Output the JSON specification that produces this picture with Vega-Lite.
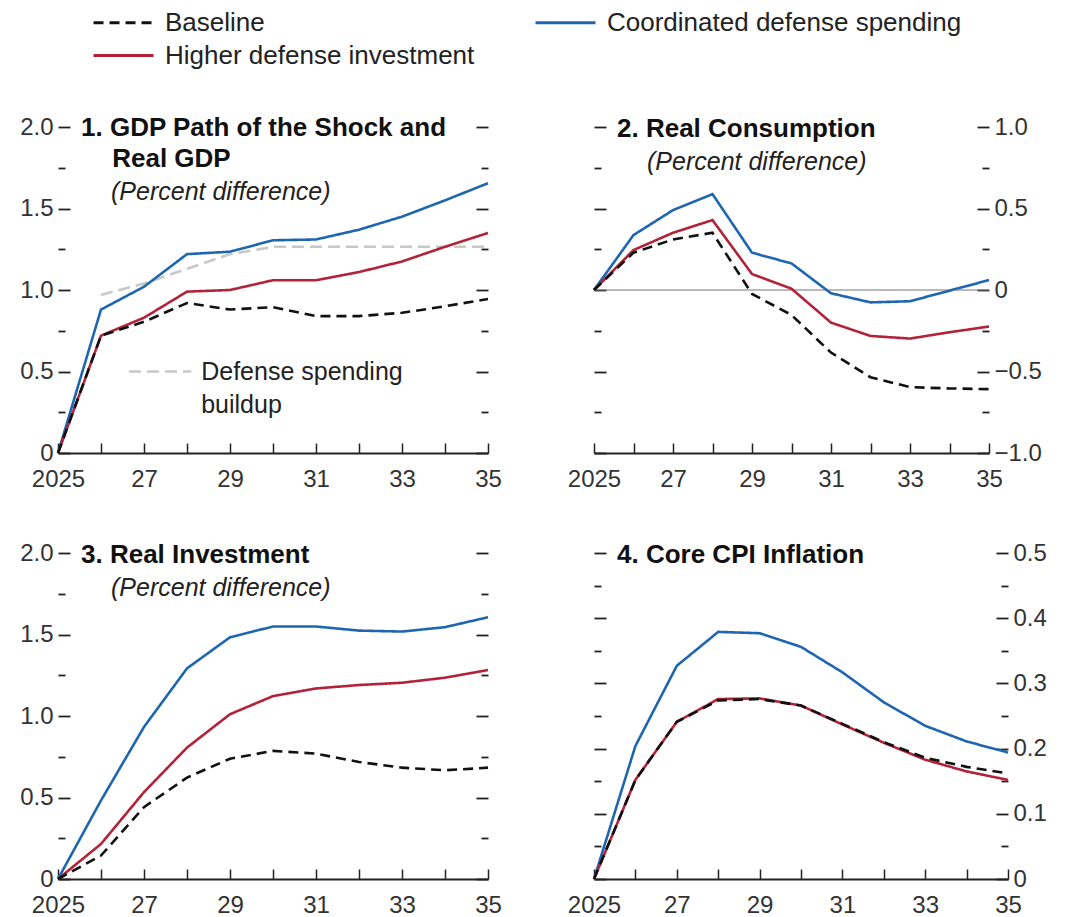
{
  "$schema": "https://vega.github.io/schema/vega-lite/v6.json",
  "padding": {"left": 19, "top": 6, "right": 5, "bottom": 5},
  "background": "white",
  "datasets": {
    "p1": [
      {"series": "Coordinated defense spending", "year": 2025, "value": 0},
      {"series": "Coordinated defense spending", "year": 2026, "value": 0.88},
      {"series": "Coordinated defense spending", "year": 2027, "value": 1.02},
      {"series": "Coordinated defense spending", "year": 2028, "value": 1.22},
      {"series": "Coordinated defense spending", "year": 2029, "value": 1.235},
      {"series": "Coordinated defense spending", "year": 2030, "value": 1.305},
      {"series": "Coordinated defense spending", "year": 2031, "value": 1.31},
      {"series": "Coordinated defense spending", "year": 2032, "value": 1.37},
      {"series": "Coordinated defense spending", "year": 2033, "value": 1.45},
      {"series": "Coordinated defense spending", "year": 2034, "value": 1.55},
      {"series": "Coordinated defense spending", "year": 2035, "value": 1.655},
      {"series": "Higher defense investment", "year": 2025, "value": 0},
      {"series": "Higher defense investment", "year": 2026, "value": 0.72},
      {"series": "Higher defense investment", "year": 2027, "value": 0.83},
      {"series": "Higher defense investment", "year": 2028, "value": 0.99},
      {"series": "Higher defense investment", "year": 2029, "value": 1.0},
      {"series": "Higher defense investment", "year": 2030, "value": 1.06},
      {"series": "Higher defense investment", "year": 2031, "value": 1.06},
      {"series": "Higher defense investment", "year": 2032, "value": 1.11},
      {"series": "Higher defense investment", "year": 2033, "value": 1.175},
      {"series": "Higher defense investment", "year": 2034, "value": 1.265},
      {"series": "Higher defense investment", "year": 2035, "value": 1.35},
      {"series": "Baseline", "year": 2025, "value": 0},
      {"series": "Baseline", "year": 2026, "value": 0.72},
      {"series": "Baseline", "year": 2027, "value": 0.805},
      {"series": "Baseline", "year": 2028, "value": 0.92},
      {"series": "Baseline", "year": 2029, "value": 0.88},
      {"series": "Baseline", "year": 2030, "value": 0.895},
      {"series": "Baseline", "year": 2031, "value": 0.84},
      {"series": "Baseline", "year": 2032, "value": 0.84},
      {"series": "Baseline", "year": 2033, "value": 0.86},
      {"series": "Baseline", "year": 2034, "value": 0.9},
      {"series": "Baseline", "year": 2035, "value": 0.945}
    ],
    "buildup": [
      {"year": 2026, "value": 0.97},
      {"year": 2027, "value": 1.04},
      {"year": 2028, "value": 1.13},
      {"year": 2029, "value": 1.22},
      {"year": 2030, "value": 1.265},
      {"year": 2031, "value": 1.265},
      {"year": 2032, "value": 1.265},
      {"year": 2033, "value": 1.265},
      {"year": 2034, "value": 1.265},
      {"year": 2035, "value": 1.265}
    ],
    "p2": [
      {"series": "Coordinated defense spending", "year": 2025, "value": 0},
      {"series": "Coordinated defense spending", "year": 2026, "value": 0.337},
      {"series": "Coordinated defense spending", "year": 2027, "value": 0.49},
      {"series": "Coordinated defense spending", "year": 2028, "value": 0.588},
      {"series": "Coordinated defense spending", "year": 2029, "value": 0.229},
      {"series": "Coordinated defense spending", "year": 2030, "value": 0.163},
      {"series": "Coordinated defense spending", "year": 2031, "value": -0.02},
      {"series": "Coordinated defense spending", "year": 2032, "value": -0.076},
      {"series": "Coordinated defense spending", "year": 2033, "value": -0.069},
      {"series": "Coordinated defense spending", "year": 2034, "value": -0.004},
      {"series": "Coordinated defense spending", "year": 2035, "value": 0.061},
      {"series": "Higher defense investment", "year": 2025, "value": 0},
      {"series": "Higher defense investment", "year": 2026, "value": 0.245},
      {"series": "Higher defense investment", "year": 2027, "value": 0.351},
      {"series": "Higher defense investment", "year": 2028, "value": 0.429},
      {"series": "Higher defense investment", "year": 2029, "value": 0.098},
      {"series": "Higher defense investment", "year": 2030, "value": 0.008},
      {"series": "Higher defense investment", "year": 2031, "value": -0.2},
      {"series": "Higher defense investment", "year": 2032, "value": -0.282},
      {"series": "Higher defense investment", "year": 2033, "value": -0.298},
      {"series": "Higher defense investment", "year": 2034, "value": -0.259},
      {"series": "Higher defense investment", "year": 2035, "value": -0.224},
      {"series": "Baseline", "year": 2025, "value": 0},
      {"series": "Baseline", "year": 2026, "value": 0.229},
      {"series": "Baseline", "year": 2027, "value": 0.31},
      {"series": "Baseline", "year": 2028, "value": 0.351},
      {"series": "Baseline", "year": 2029, "value": -0.024},
      {"series": "Baseline", "year": 2030, "value": -0.153},
      {"series": "Baseline", "year": 2031, "value": -0.384},
      {"series": "Baseline", "year": 2032, "value": -0.535},
      {"series": "Baseline", "year": 2033, "value": -0.596},
      {"series": "Baseline", "year": 2034, "value": -0.604},
      {"series": "Baseline", "year": 2035, "value": -0.608}
    ],
    "p3": [
      {"series": "Coordinated defense spending", "year": 2025, "value": 0},
      {"series": "Coordinated defense spending", "year": 2026, "value": 0.482},
      {"series": "Coordinated defense spending", "year": 2027, "value": 0.933},
      {"series": "Coordinated defense spending", "year": 2028, "value": 1.292},
      {"series": "Coordinated defense spending", "year": 2029, "value": 1.483},
      {"series": "Coordinated defense spending", "year": 2030, "value": 1.549},
      {"series": "Coordinated defense spending", "year": 2031, "value": 1.549},
      {"series": "Coordinated defense spending", "year": 2032, "value": 1.524},
      {"series": "Coordinated defense spending", "year": 2033, "value": 1.518},
      {"series": "Coordinated defense spending", "year": 2034, "value": 1.545},
      {"series": "Coordinated defense spending", "year": 2035, "value": 1.606},
      {"series": "Higher defense investment", "year": 2025, "value": 0},
      {"series": "Higher defense investment", "year": 2026, "value": 0.215},
      {"series": "Higher defense investment", "year": 2027, "value": 0.533},
      {"series": "Higher defense investment", "year": 2028, "value": 0.806},
      {"series": "Higher defense investment", "year": 2029, "value": 1.011},
      {"series": "Higher defense investment", "year": 2030, "value": 1.122},
      {"series": "Higher defense investment", "year": 2031, "value": 1.169},
      {"series": "Higher defense investment", "year": 2032, "value": 1.19},
      {"series": "Higher defense investment", "year": 2033, "value": 1.204},
      {"series": "Higher defense investment", "year": 2034, "value": 1.235},
      {"series": "Higher defense investment", "year": 2035, "value": 1.282},
      {"series": "Baseline", "year": 2025, "value": 0},
      {"series": "Baseline", "year": 2026, "value": 0.144},
      {"series": "Baseline", "year": 2027, "value": 0.441},
      {"series": "Baseline", "year": 2028, "value": 0.622},
      {"series": "Baseline", "year": 2029, "value": 0.738},
      {"series": "Baseline", "year": 2030, "value": 0.786},
      {"series": "Baseline", "year": 2031, "value": 0.769},
      {"series": "Baseline", "year": 2032, "value": 0.718},
      {"series": "Baseline", "year": 2033, "value": 0.683},
      {"series": "Baseline", "year": 2034, "value": 0.667},
      {"series": "Baseline", "year": 2035, "value": 0.683}
    ],
    "p4": [
      {"series": "Coordinated defense spending", "year": 2025, "value": 0},
      {"series": "Coordinated defense spending", "year": 2026, "value": 0.204},
      {"series": "Coordinated defense spending", "year": 2027, "value": 0.327},
      {"series": "Coordinated defense spending", "year": 2028, "value": 0.379},
      {"series": "Coordinated defense spending", "year": 2029, "value": 0.377},
      {"series": "Coordinated defense spending", "year": 2030, "value": 0.356},
      {"series": "Coordinated defense spending", "year": 2031, "value": 0.317},
      {"series": "Coordinated defense spending", "year": 2032, "value": 0.271},
      {"series": "Coordinated defense spending", "year": 2033, "value": 0.235},
      {"series": "Coordinated defense spending", "year": 2034, "value": 0.211},
      {"series": "Coordinated defense spending", "year": 2035, "value": 0.194},
      {"series": "Higher defense investment", "year": 2025, "value": 0},
      {"series": "Higher defense investment", "year": 2026, "value": 0.152},
      {"series": "Higher defense investment", "year": 2027, "value": 0.241},
      {"series": "Higher defense investment", "year": 2028, "value": 0.276},
      {"series": "Higher defense investment", "year": 2029, "value": 0.277},
      {"series": "Higher defense investment", "year": 2030, "value": 0.266},
      {"series": "Higher defense investment", "year": 2031, "value": 0.237},
      {"series": "Higher defense investment", "year": 2032, "value": 0.209},
      {"series": "Higher defense investment", "year": 2033, "value": 0.183},
      {"series": "Higher defense investment", "year": 2034, "value": 0.165},
      {"series": "Higher defense investment", "year": 2035, "value": 0.152},
      {"series": "Baseline", "year": 2025, "value": 0},
      {"series": "Baseline", "year": 2026, "value": 0.152},
      {"series": "Baseline", "year": 2027, "value": 0.241},
      {"series": "Baseline", "year": 2028, "value": 0.274},
      {"series": "Baseline", "year": 2029, "value": 0.276},
      {"series": "Baseline", "year": 2030, "value": 0.266},
      {"series": "Baseline", "year": 2031, "value": 0.238},
      {"series": "Baseline", "year": 2032, "value": 0.21},
      {"series": "Baseline", "year": 2033, "value": 0.186},
      {"series": "Baseline", "year": 2034, "value": 0.172},
      {"series": "Baseline", "year": 2035, "value": 0.162}
    ],
    "one": [{"note": "annotation"}]
  },
  "columns": 2,
  "spacing": {"row": 100, "column": 106},
  "bounds": "flush",
  "concat": [
    {
      "width": 430,
      "height": 326,
      "title": {"text": ["1. GDP Path of the Shock and", "\u200b\u2003\u2009Real GDP"], "subtitle": "\u200b\u2003\u2009(Percent difference)", "dx": 23, "offset": -90},
      "layer": [
        {
          "data": {"name": "buildup"},
          "mark": {"type": "line", "color": "#c8c8c8", "strokeDash": [12, 6], "strokeWidth": 2.6},
          "encoding": {
            "x": {"field": "year", "type": "quantitative", "scale": {"domain": [2025, 2035], "nice": false, "zero": false},
              "axis": {"values": [2025, 2026, 2027, 2028, 2029, 2030, 2031, 2032, 2033, 2034, 2035], "labelExpr": "datum.value % 2 == 1 ? (datum.value == 2025 ? '2025' : substring(toString(datum.value), 2, 4)) : ''"}},
            "y": {"field": "value", "type": "quantitative", "scale": {"domain": [0, 2], "nice": false, "zero": false},
              "axis": {"orient": "left", "values": [0, 0.25, 0.5, 0.75, 1, 1.25, 1.5, 1.75, 2], "labelExpr": "round(datum.value*100) % 50 != 0 ? '' : (datum.value == 0 ? '0' : format(datum.value, '.1f'))", "tickSize": {"condition": {"test": "round(datum.value*100) % 50 != 0", "value": -7}, "value": -12}}}
          }
        },
        {
          "data": {"name": "p1"},
          "mark": {"type": "line", "strokeWidth": 2.6},
          "encoding": {
            "x": {"field": "year", "type": "quantitative", "scale": {"domain": [2025, 2035], "nice": false, "zero": false},
              "axis": {"values": [2025, 2026, 2027, 2028, 2029, 2030, 2031, 2032, 2033, 2034, 2035], "labelExpr": "datum.value % 2 == 1 ? (datum.value == 2025 ? '2025' : substring(toString(datum.value), 2, 4)) : ''"}},
            "y": {"field": "value", "type": "quantitative", "scale": {"domain": [0, 2], "nice": false, "zero": false},
              "axis": {"orient": "right", "values": [0, 0.25, 0.5, 0.75, 1, 1.25, 1.5, 1.75, 2], "labels": false, "tickSize": {"condition": {"test": "round(datum.value*100) % 50 != 0", "value": -7}, "value": -12}}},
            "color": {"field": "series", "type": "nominal", "scale": {"domain": ["Baseline", "Higher defense investment", "Coordinated defense spending"], "range": ["#111111", "#b2233a", "#1f66b0"]},
              "legend": {"orient": "none", "legendX": 49, "legendY": -121, "columns": 2, "title": null}},
            "strokeDash": {"field": "series", "type": "nominal", "scale": {"domain": ["Baseline", "Higher defense investment", "Coordinated defense spending"], "range": [[10, 6], [1, 0], [1, 0]]},
              "legend": {"orient": "none", "legendX": 49, "legendY": -121, "columns": 2, "title": null}}
          }
        },
        {
          "data": {"name": "one"},
          "mark": {"type": "rule", "color": "#c8c8c8", "strokeDash": [12, 6], "strokeWidth": 2.6},
          "encoding": {
            "x": {"datum": 2026.65, "type": "quantitative",
              "axis": {"values": [2025, 2026, 2027, 2028, 2029, 2030, 2031, 2032, 2033, 2034, 2035], "labelExpr": "datum.value % 2 == 1 ? (datum.value == 2025 ? '2025' : substring(toString(datum.value), 2, 4)) : ''"}},
            "x2": {"datum": 2028.1},
            "y": {"datum": 0.5, "type": "quantitative", "axis": null}
          }
        },
        {
          "data": {"name": "one"},
          "mark": {"type": "text", "text": ["Defense spending", "buildup"], "align": "left", "baseline": "middle", "font": "Liberation Sans", "fontSize": 25, "lineHeight": 33, "color": "#222222"},
          "encoding": {
            "x": {"datum": 2028.33, "type": "quantitative",
              "axis": {"values": [2025, 2026, 2027, 2028, 2029, 2030, 2031, 2032, 2033, 2034, 2035], "labelExpr": "datum.value % 2 == 1 ? (datum.value == 2025 ? '2025' : substring(toString(datum.value), 2, 4)) : ''"}},
            "y": {"datum": 0.5, "type": "quantitative", "axis": null}
          }
        }
      ],
      "resolve": {"axis": {"y": "independent"}}
    },
    {
      "width": 395,
      "height": 326,
      "title": {"text": "2. Real Consumption", "subtitle": "\u200b\u2003\u2009(Percent difference)", "dx": 23, "offset": -60},
      "layer": [
        {
          "data": {"name": "one"},
          "mark": {"type": "rule", "color": "#777777", "strokeWidth": 1.2},
          "encoding": {
            "y": {"datum": 0, "type": "quantitative", "scale": {"domain": [-1, 1], "nice": false, "zero": false},
              "axis": {"orient": "left", "values": [-1, -0.75, -0.5, -0.25, 0, 0.25, 0.5, 0.75, 1], "labels": false, "tickSize": {"condition": {"test": "round(datum.value*100) % 50 != 0", "value": -7}, "value": -12}}}
          }
        },
        {
          "data": {"name": "p2"},
          "mark": {"type": "line", "strokeWidth": 2.6},
          "encoding": {
            "x": {"field": "year", "type": "quantitative", "scale": {"domain": [2025, 2035], "nice": false, "zero": false},
              "axis": {"values": [2025, 2026, 2027, 2028, 2029, 2030, 2031, 2032, 2033, 2034, 2035], "labelExpr": "datum.value % 2 == 1 ? (datum.value == 2025 ? '2025' : substring(toString(datum.value), 2, 4)) : ''"}},
            "y": {"field": "value", "type": "quantitative", "scale": {"domain": [-1, 1], "nice": false, "zero": false},
              "axis": {"orient": "right", "values": [-1, -0.75, -0.5, -0.25, 0, 0.25, 0.5, 0.75, 1], "labelExpr": "round(datum.value*100) % 50 != 0 ? '' : (datum.value == 0 ? '0' : format(datum.value, '.1f'))", "tickSize": {"condition": {"test": "round(datum.value*100) % 50 != 0", "value": -7}, "value": -12}}},
            "color": {"field": "series", "type": "nominal", "legend": null},
            "strokeDash": {"field": "series", "type": "nominal", "legend": null}
          }
        }
      ],
      "resolve": {"axis": {"y": "independent"}}
    },
    {
      "width": 430,
      "height": 326,
      "title": {"text": "3. Real Investment", "subtitle": "\u200b\u2003\u2009(Percent difference)", "dx": 23, "offset": -60},
      "layer": [
        {
          "data": {"name": "p3"},
          "mark": {"type": "line", "strokeWidth": 2.6},
          "encoding": {
            "x": {"field": "year", "type": "quantitative", "scale": {"domain": [2025, 2035], "nice": false, "zero": false},
              "axis": {"values": [2025, 2026, 2027, 2028, 2029, 2030, 2031, 2032, 2033, 2034, 2035], "labelExpr": "datum.value % 2 == 1 ? (datum.value == 2025 ? '2025' : substring(toString(datum.value), 2, 4)) : ''"}},
            "y": {"field": "value", "type": "quantitative", "scale": {"domain": [0, 2], "nice": false, "zero": false},
              "axis": {"orient": "left", "values": [0, 0.25, 0.5, 0.75, 1, 1.25, 1.5, 1.75, 2], "labelExpr": "round(datum.value*100) % 50 != 0 ? '' : (datum.value == 0 ? '0' : format(datum.value, '.1f'))", "tickSize": {"condition": {"test": "round(datum.value*100) % 50 != 0", "value": -7}, "value": -12}}},
            "color": {"field": "series", "type": "nominal", "legend": null},
            "strokeDash": {"field": "series", "type": "nominal", "legend": null}
          }
        },
        {
          "data": {"name": "one"},
          "mark": {"type": "rule", "strokeOpacity": 0},
          "encoding": {
            "y": {"datum": 0, "type": "quantitative", "scale": {"domain": [0, 2], "nice": false, "zero": false},
              "axis": {"orient": "right", "values": [0, 0.25, 0.5, 0.75, 1, 1.25, 1.5, 1.75, 2], "labels": false, "tickSize": {"condition": {"test": "round(datum.value*100) % 50 != 0", "value": -7}, "value": -12}}}
          }
        }
      ],
      "resolve": {"axis": {"y": "independent"}}
    },
    {
      "width": 414,
      "height": 326,
      "title": {"text": "4. Core CPI Inflation", "dx": 23, "offset": -27},
      "layer": [
        {
          "data": {"name": "one"},
          "mark": {"type": "rule", "strokeOpacity": 0},
          "encoding": {
            "y": {"datum": 0, "type": "quantitative", "scale": {"domain": [0, 0.5], "nice": false, "zero": false},
              "axis": {"orient": "left", "values": [0, 0.05, 0.1, 0.15, 0.2, 0.25, 0.3, 0.35, 0.4, 0.45, 0.5], "labels": false, "tickSize": {"condition": {"test": "round(datum.value*100) % 10 != 0", "value": -7}, "value": -12}}}
          }
        },
        {
          "data": {"name": "p4"},
          "mark": {"type": "line", "strokeWidth": 2.6},
          "encoding": {
            "x": {"field": "year", "type": "quantitative", "scale": {"domain": [2025, 2035], "nice": false, "zero": false},
              "axis": {"values": [2025, 2026, 2027, 2028, 2029, 2030, 2031, 2032, 2033, 2034, 2035], "labelExpr": "datum.value % 2 == 1 ? (datum.value == 2025 ? '2025' : substring(toString(datum.value), 2, 4)) : ''"}},
            "y": {"field": "value", "type": "quantitative", "scale": {"domain": [0, 0.5], "nice": false, "zero": false},
              "axis": {"orient": "right", "values": [0, 0.05, 0.1, 0.15, 0.2, 0.25, 0.3, 0.35, 0.4, 0.45, 0.5], "labelExpr": "round(datum.value*100) % 10 != 0 ? '' : (datum.value == 0 ? '0' : format(datum.value, '.1f'))", "tickSize": {"condition": {"test": "round(datum.value*100) % 10 != 0", "value": -7}, "value": -12}}},
            "color": {"field": "series", "type": "nominal", "legend": null},
            "strokeDash": {"field": "series", "type": "nominal", "legend": null}
          }
        }
      ],
      "resolve": {"axis": {"y": "independent"}}
    }
  ],
  "config": {
    "view": {"stroke": null},
    "font": "Liberation Sans",
    "axis": {
      "grid": false,
      "title": null,
      "labelFont": "Liberation Sans",
      "labelFontSize": 24,
      "labelColor": "#333333",
      "tickColor": "#222222",
      "tickWidth": 1.8,
      "labelFlush": false,
      "labelOverlap": false,
      "labelBound": false
    },
    "axisX": {"domain": true, "domainColor": "#222222", "domainWidth": 2, "tickSize": -10, "labelPadding": 24, "tickWidth": 1.5},
    "axisY": {"domain": false, "labelPadding": 17},
    "title": {
      "font": "Liberation Sans",
      "fontSize": 26,
      "fontWeight": "bold",
      "color": "#111111",
      "lineHeight": 31,
      "anchor": "start",
      "frame": "group",
      "subtitleFont": "Liberation Sans",
      "subtitleFontSize": 25,
      "subtitleFontStyle": "italic",
      "subtitleColor": "#222222",
      "subtitlePadding": 8
    },
    "legend": {
      "symbolType": "M-2,0H2",
      "symbolSize": 900,
      "symbolStrokeWidth": 3,
      "labelFont": "Liberation Sans",
      "labelFontSize": 26,
      "labelColor": "#222222",
      "labelLimit": 600,
      "labelOffset": 25,
      "columnPadding": 54,
      "rowPadding": 3,
      "padding": 0
    }
  }
}
